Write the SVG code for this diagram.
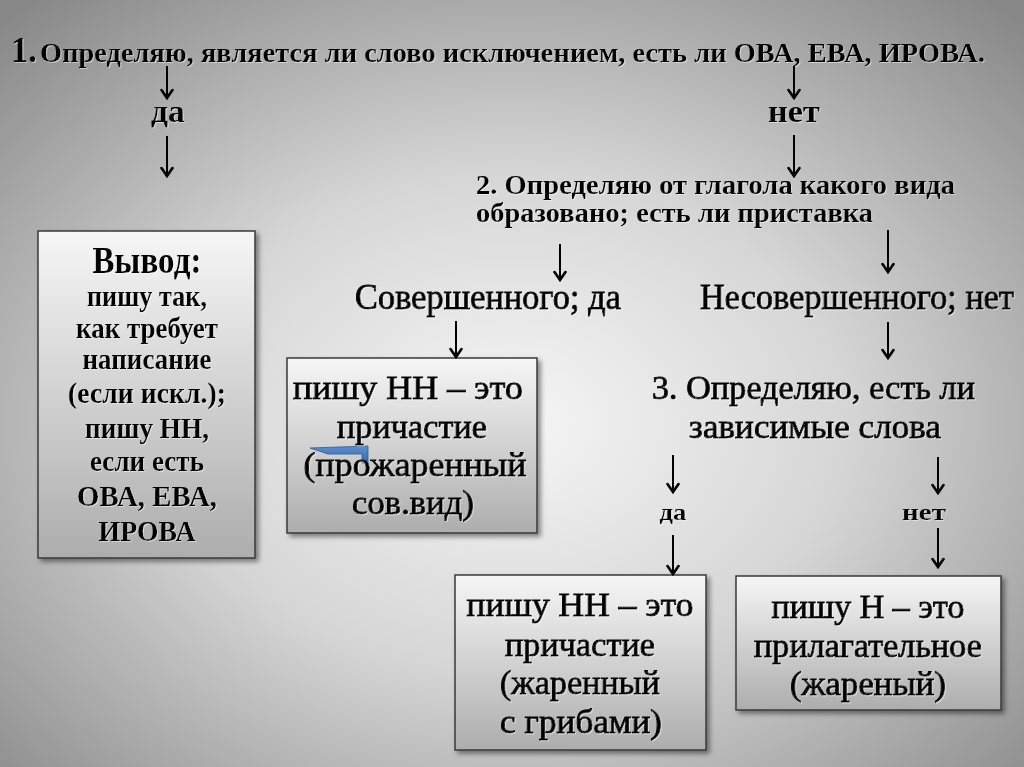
<svg xmlns="http://www.w3.org/2000/svg" width="1024" height="767" viewBox="0 0 1024 767">
<defs>
  <radialGradient id="bg" cx="0.5" cy="0.55" r="0.72">
    <stop offset="0" stop-color="#f6f6f6"/>
    <stop offset="0.45" stop-color="#d6d6d6"/>
    <stop offset="1" stop-color="#888"/>
  </radialGradient>
  <linearGradient id="boxfill" x1="0" y1="0" x2="0" y2="1">
    <stop offset="0" stop-color="#f6f6f6"/>
    <stop offset="1" stop-color="#adadad"/>
  </linearGradient>
  <linearGradient id="blue" x1="0" y1="0" x2="0" y2="1">
    <stop offset="0" stop-color="#5b8fd0"/>
    <stop offset="1" stop-color="#3a6aa8"/>
  </linearGradient>
  <filter id="boxshadow" x="-10%" y="-10%" width="130%" height="130%">
    <feDropShadow dx="3" dy="3" stdDeviation="2.5" flood-color="#000" flood-opacity="0.45"/>
  </filter>
  <filter id="txtglow" x="-5%" y="-20%" width="110%" height="140%">
    <feDropShadow dx="1" dy="1" stdDeviation="0.3" flood-color="#fff" flood-opacity="0.45"/>
  </filter>
  <marker id="head" viewBox="0 0 14 14" refX="12" refY="7" markerWidth="14" markerHeight="14" markerUnits="userSpaceOnUse" orient="auto">
    <path d="M4,1.5 L12,7 L4,12.5" fill="none" stroke="#000" stroke-width="2.6" stroke-linejoin="miter" stroke-linecap="round"/>
  </marker>
</defs>
<style>
  text { font-family: "Liberation Serif", "Times New Roman", serif; fill: #000; }
  .b { font-weight: bold; }
  .r { stroke: #000; stroke-width: 0.9; }
  .t { filter: url(#txtglow); }
  .box { fill: url(#boxfill); stroke: #3a3a3a; stroke-width: 1.5; filter: url(#boxshadow); }
  .arr { stroke: #000; stroke-width: 2; fill: none; marker-end: url(#head); }
  .mid { text-anchor: middle; }
</style>

<rect x="0" y="0" width="1024" height="767" fill="url(#bg)"/>

<g id="step1" class="t">
  <text x="11" y="62" class="b" font-size="36" textLength="26" lengthAdjust="spacingAndGlyphs">1.</text>
  <text x="40" y="62" class="b" font-size="28" textLength="945" lengthAdjust="spacingAndGlyphs">Определяю, является ли слово исключением, есть ли ОВА, ЕВА, ИРОВА.</text>
</g>

<g id="yes1" class="t">
  <text x="168" y="122" class="b mid" font-size="32" textLength="34" lengthAdjust="spacingAndGlyphs">да</text>
</g>

<g id="no1" class="t">
  <text x="794" y="122" class="b mid" font-size="32" textLength="52" lengthAdjust="spacingAndGlyphs">нет</text>
</g>

<g id="step2" class="t">
  <text x="476" y="194" class="b" font-size="28" textLength="479" lengthAdjust="spacingAndGlyphs">2. Определяю от глагола какого вида</text>
  <text x="476" y="222" class="b" font-size="28" textLength="397" lengthAdjust="spacingAndGlyphs">образовано; есть ли приставка</text>
</g>

<g id="perfective" class="t">
  <text x="355" y="309" class="r" font-size="35" textLength="266" lengthAdjust="spacingAndGlyphs">Совершенного; да</text>
</g>

<g id="imperfective" class="t">
  <text x="700" y="309" class="r" font-size="35" textLength="314" lengthAdjust="spacingAndGlyphs">Несовершенного; нет</text>
</g>

<g id="step3" class="t">
  <text x="652" y="399" class="r" font-size="34" textLength="323" lengthAdjust="spacingAndGlyphs">3. Определяю, есть ли</text>
  <text x="689" y="438" class="r" font-size="34" textLength="252" lengthAdjust="spacingAndGlyphs">зависимые слова</text>
</g>

<g id="yes3" class="t">
  <text x="673" y="520" class="b mid" font-size="24" textLength="27" lengthAdjust="spacingAndGlyphs">да</text>
</g>

<g id="no3" class="t">
  <text x="924" y="520" class="b mid" font-size="24" textLength="44" lengthAdjust="spacingAndGlyphs">нет</text>
</g>

<g id="conclusion">
  <rect class="box" x="38" y="231" width="217" height="327"/>
  <g class="t">
    <text x="147" y="273" class="b mid" font-size="38" textLength="109" lengthAdjust="spacingAndGlyphs">Вывод:</text>
    <text x="147" y="306" class="b mid" font-size="29" textLength="120" lengthAdjust="spacingAndGlyphs">пишу так,</text>
    <text x="147" y="338" class="b mid" font-size="29" textLength="142" lengthAdjust="spacingAndGlyphs">как требует</text>
    <text x="147" y="369" class="b mid" font-size="29" textLength="129" lengthAdjust="spacingAndGlyphs">написание</text>
    <text x="147" y="403" class="b mid" font-size="29" textLength="158" lengthAdjust="spacingAndGlyphs">(если искл.);</text>
    <text x="147" y="438" class="b mid" font-size="29" textLength="124" lengthAdjust="spacingAndGlyphs">пишу НН,</text>
    <text x="147" y="471" class="b mid" font-size="29" textLength="114" lengthAdjust="spacingAndGlyphs">если есть</text>
    <text x="147" y="506" class="b mid" font-size="29" textLength="140" lengthAdjust="spacingAndGlyphs">ОВА, ЕВА,</text>
    <text x="147" y="541" class="b mid" font-size="29" textLength="97" lengthAdjust="spacingAndGlyphs">ИРОВА</text>
  </g>
</g>

<g id="participle-perf">
  <rect class="box" x="287" y="358" width="250" height="175"/>
  <path d="M310,448 L368,446 L368,463 L362,463 L362,454 L328,454 Z" fill="url(#blue)" stroke="#2f5a93" stroke-width="0.8"/>
  <g class="t">
    <text x="408" y="399" class="r mid" font-size="34" textLength="230" lengthAdjust="spacingAndGlyphs">пишу НН – это</text>
    <text x="412" y="438" class="r mid" font-size="34" textLength="150" lengthAdjust="spacingAndGlyphs">причастие</text>
    <text x="415" y="476" class="r mid" font-size="34" textLength="223" lengthAdjust="spacingAndGlyphs">(прожаренный</text>
    <text x="413" y="514" class="r mid" font-size="34" textLength="122" lengthAdjust="spacingAndGlyphs">сов.вид)</text>
  </g>
</g>

<g id="participle-dep">
  <rect class="box" x="455" y="575" width="251" height="175"/>
  <g class="t">
    <text x="580" y="616" class="r mid" font-size="34" textLength="227" lengthAdjust="spacingAndGlyphs">пишу НН – это</text>
    <text x="580" y="656" class="r mid" font-size="34" textLength="150" lengthAdjust="spacingAndGlyphs">причастие</text>
    <text x="580" y="694" class="r mid" font-size="34" textLength="160" lengthAdjust="spacingAndGlyphs">(жаренный</text>
    <text x="581" y="733" class="r mid" font-size="34" textLength="162" lengthAdjust="spacingAndGlyphs">с грибами)</text>
  </g>
</g>

<g id="adjective">
  <rect class="box" x="736" y="576" width="265" height="134"/>
  <g class="t">
    <text x="868" y="618" class="r mid" font-size="34" textLength="193" lengthAdjust="spacingAndGlyphs">пишу Н – это</text>
    <text x="868" y="657" class="r mid" font-size="34" textLength="228" lengthAdjust="spacingAndGlyphs">прилагательное</text>
    <text x="868" y="695" class="r mid" font-size="34" textLength="156" lengthAdjust="spacingAndGlyphs">(жареный)</text>
  </g>
</g>

<g id="connectors">
  <line class="arr" x1="167" y1="66" x2="167" y2="98"/>
  <line class="arr" x1="167" y1="136" x2="167" y2="176"/>
  <line class="arr" x1="794" y1="66" x2="794" y2="98"/>
  <line class="arr" x1="794" y1="135" x2="794" y2="176"/>
  <line class="arr" x1="560" y1="244" x2="560" y2="280"/>
  <line class="arr" x1="888" y1="230" x2="888" y2="272"/>
  <line class="arr" x1="456" y1="321" x2="456" y2="357"/>
  <line class="arr" x1="888" y1="322" x2="888" y2="358"/>
  <line class="arr" x1="673" y1="455" x2="673" y2="492"/>
  <line class="arr" x1="938" y1="457" x2="938" y2="493"/>
  <line class="arr" x1="673" y1="535" x2="673" y2="574"/>
  <line class="arr" x1="938" y1="528" x2="938" y2="567"/>
</g>
</svg>
